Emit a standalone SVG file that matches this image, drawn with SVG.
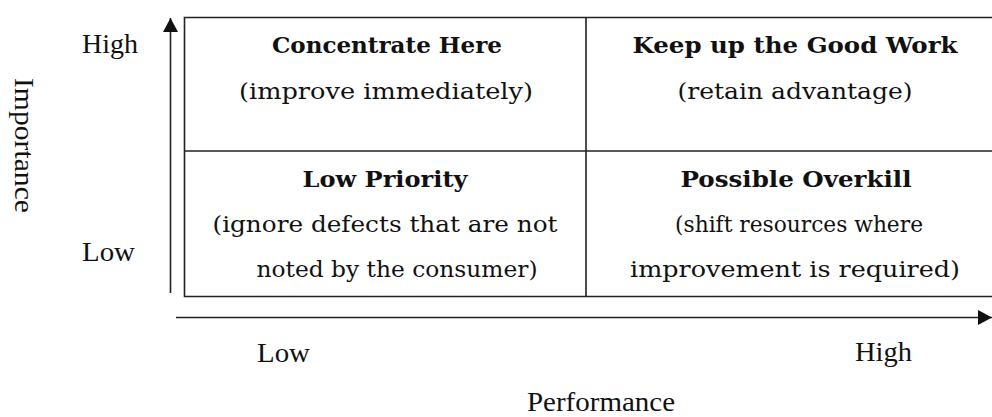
<svg xmlns="http://www.w3.org/2000/svg" width="992" height="417" viewBox="0 0 992 417">
<style>
.ax{font-family:"Liberation Serif","Times New Roman",serif;font-size:28px;fill:#111}
.hd{font-family:"DejaVu Serif","Liberation Serif",serif;font-size:22px;font-weight:bold;fill:#111;text-anchor:middle}
.tx{font-family:"DejaVu Serif","Liberation Serif",serif;font-size:23px;fill:#111;text-anchor:middle}
.ln{stroke:#222;stroke-width:1.6;fill:none}
</style>
<defs>
<marker id="arr" viewBox="0 0 14 15" refX="14" refY="7.5" markerWidth="14" markerHeight="15" markerUnits="userSpaceOnUse" orient="auto">
<path d="M0,0 L14,7.5 L0,15 z" fill="#111"/>
</marker>
</defs>
<rect width="992" height="417" fill="#fff"/>
<g id="connectors">
<line class="ln" x1="170.5" y1="293" x2="170.5" y2="18" marker-end="url(#arr)"/>
<line class="ln" x1="176" y1="317.5" x2="992" y2="317.5" marker-end="url(#arr)"/>
</g>
<g id="grid">
<path class="ln" d="M992,17.5 H184.5 V296.5 H992 M586,17.5 V296.5 M184.5,151 H992"/>
</g>
<g id="axis-labels">
<text class="ax" x="82" y="53" textLength="56" lengthAdjust="spacingAndGlyphs">High</text>
<text class="ax" x="82" y="261" textLength="53" lengthAdjust="spacingAndGlyphs">Low</text>
<text class="ax" transform="translate(15,78) rotate(90)" x="0" y="0" textLength="135" lengthAdjust="spacingAndGlyphs">Importance</text>
<text class="ax" x="257" y="362" textLength="53" lengthAdjust="spacingAndGlyphs">Low</text>
<text class="ax" x="855" y="361" textLength="57" lengthAdjust="spacingAndGlyphs">High</text>
<text class="ax" x="527" y="411" textLength="148" lengthAdjust="spacingAndGlyphs">Performance</text>
</g>
<g id="q-concentrate">
<text class="hd" x="387" y="53" textLength="230" lengthAdjust="spacingAndGlyphs">Concentrate Here</text>
<text class="tx" x="386" y="99" textLength="294" lengthAdjust="spacingAndGlyphs">(improve immediately)</text>
</g>
<g id="q-keep">
<text class="hd" x="795" y="53" textLength="325" lengthAdjust="spacingAndGlyphs">Keep up the Good Work</text>
<text class="tx" x="795" y="99" textLength="235" lengthAdjust="spacingAndGlyphs">(retain advantage)</text>
</g>
<g id="q-low">
<text class="hd" x="385" y="187" textLength="165" lengthAdjust="spacingAndGlyphs">Low Priority</text>
<text class="tx" x="385" y="232" textLength="345" lengthAdjust="spacingAndGlyphs">(ignore defects that are not</text>
<text class="tx" x="397" y="277" textLength="281" lengthAdjust="spacingAndGlyphs">noted by the consumer)</text>
</g>
<g id="q-overkill">
<text class="hd" x="796" y="187" textLength="231" lengthAdjust="spacingAndGlyphs">Possible Overkill</text>
<text class="tx" x="799" y="232" textLength="248" lengthAdjust="spacingAndGlyphs">(shift resources where</text>
<text class="tx" x="795" y="277" textLength="330" lengthAdjust="spacingAndGlyphs">improvement is required)</text>
</g>
</svg>
